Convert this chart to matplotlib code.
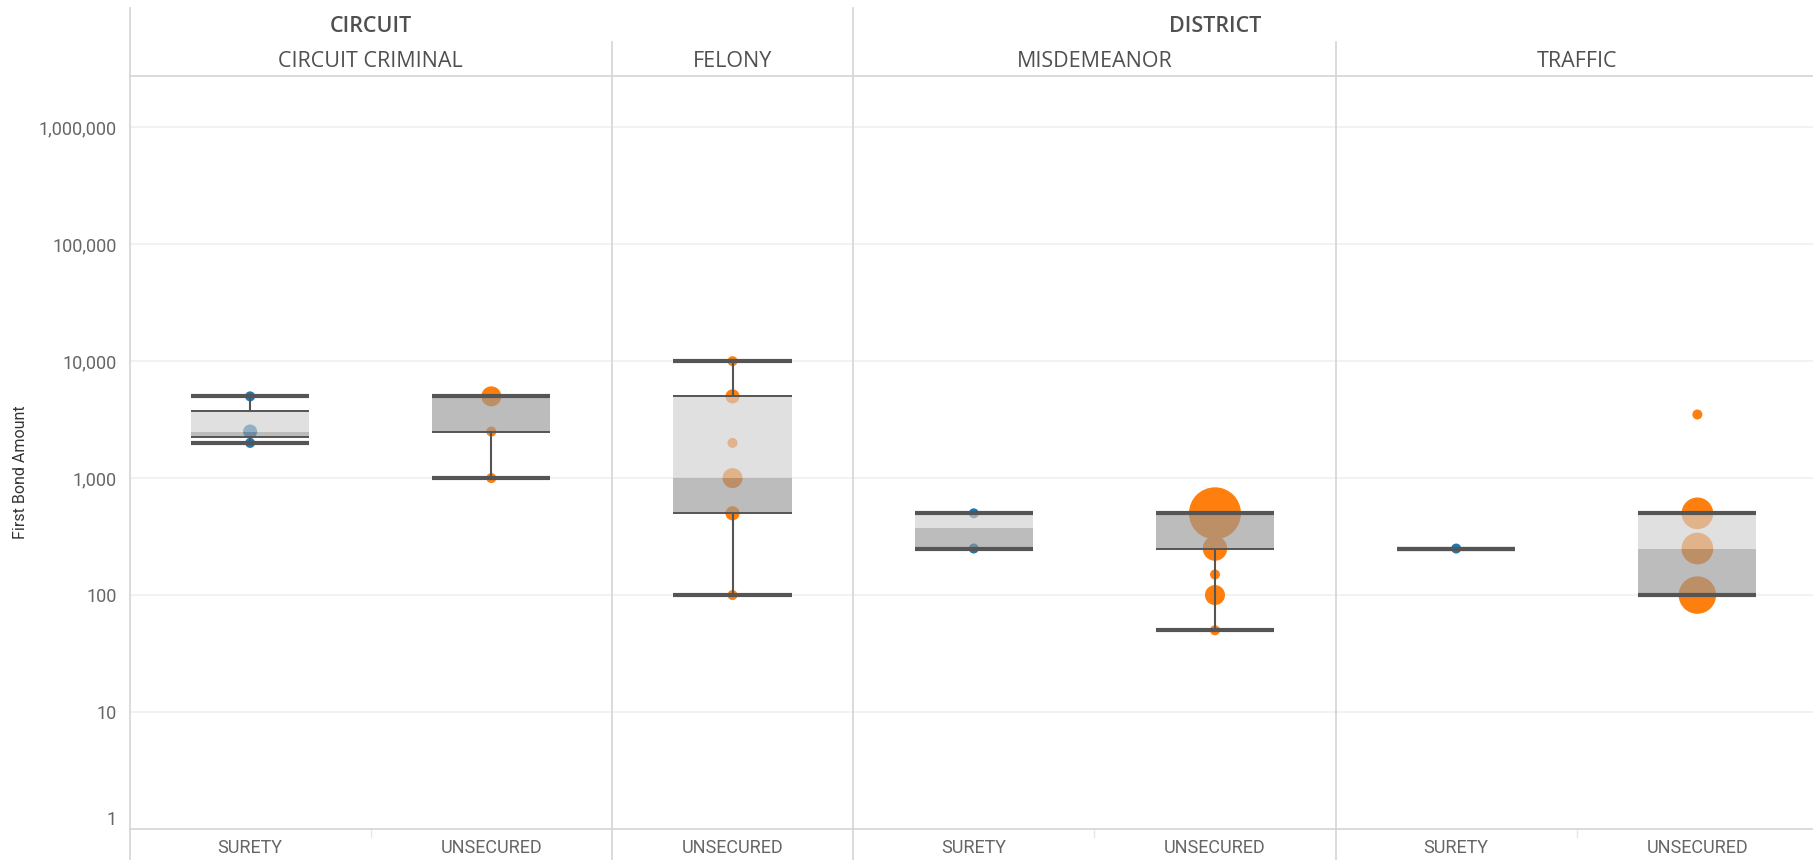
import matplotlib
matplotlib.use('Agg')
import matplotlib.pyplot as plt
import numpy as np

# --- data ---
court = ['CIRCUIT', 'CIRCUIT', 'DISTRICT', 'DISTRICT', 'DISTRICT', 'DISTRICT', 'DISTRICT']
case_type = ['CIRCUIT CRIMINAL', 'CIRCUIT CRIMINAL', 'FELONY', 'MISDEMEANOR',
             'MISDEMEANOR', 'TRAFFIC', 'TRAFFIC']
bond_type = ['SURETY', 'UNSECURED', 'UNSECURED', 'SURETY', 'UNSECURED', 'SURETY', 'UNSECURED']

whisker_lo = [2000, 1000, 100, 250, 50, 250, 100]
q1 = [2250, 2500, 500, 250, 250, 250, 100]
median = [2500, 5000, 1000, 375, 500, 250, 250]
q3 = [3750, 5000, 5000, 500, 500, 250, 500]
whisker_hi = [5000, 5000, 10000, 500, 500, 250, 500]

pt_slot = [0, 0, 0, 1, 1, 1, 2, 2, 2, 2, 2, 2, 3, 3, 4, 4, 4, 4, 4, 5, 6, 6, 6, 6]
pt_value = [5000, 2500, 2000, 5000, 2500, 1000, 10000, 5000, 2000, 1000, 500, 100,
            500, 250, 500, 250, 150, 100, 50, 250, 3500, 500, 250, 100]
pt_count = [1, 2, 1, 4, 1, 1, 1, 2, 1, 4, 2, 1,
            1, 1, 27, 6, 1, 4, 1, 1, 1, 10, 10, 14]

bond_colours = {'SURETY': '#1f77b4', 'UNSECURED': '#ff7f0e'}

# --- figure ---
fig = plt.figure(figsize=(18.13, 8.6), dpi=100)
# the last panel runs a few px past the right edge, like the reference
ax = fig.add_axes([129.5 / 1813, 1 - 829 / 860, (1818 - 129.5) / 1813, (829 - 76) / 860])

axisFont = ['Liberation Sans Narrow', 'Roboto', 'DejaVu Sans']
headFont = ['Open Sans', 'DejaVu Sans']
textCol = '#505050'
lineCol = '#555555'
sepCol = '#d4d4d4'

ax.set_yscale('log')
ax.set_ylim(1, 10 ** 6.438)
ax.set_xlim(-0.5, len(bond_type) - 0.5)

# points (under the boxes)
colours = [bond_colours[bond_type[s]] for s in pt_slot]
ax.scatter(pt_slot, pt_value, s=np.array(pt_count) * 52, c=colours,
           linewidths=0, zorder=2)

# boxes
w = 0.49
xs = np.arange(len(bond_type))
med = np.array(median)
ax.bar(xs, np.array(q3) - med, bottom=med, width=w, color='#d0d0d0', alpha=0.65, zorder=3)
ax.bar(xs, med - np.array(q1), bottom=q1, width=w, color='#989898', alpha=0.65, zorder=3)
ax.hlines(q1 + q3, np.tile(xs - w / 2, 2), np.tile(xs + w / 2, 2),
          colors=lineCol, lw=1.4, zorder=4)
ax.vlines(xs, whisker_lo, q1, colors=lineCol, lw=1.5, zorder=4)
ax.vlines(xs, q3, whisker_hi, colors=lineCol, lw=1.5, zorder=4)
ax.hlines(whisker_lo + whisker_hi, np.tile(xs - w / 2, 2), np.tile(xs + w / 2, 2),
          colors=lineCol, lw=3, zorder=5)

# grid
yt = [1, 10, 100, 1000, 10000, 100000, 1000000]
ax.set_yticks(yt)
ax.set_yticklabels([f'{v:,}' for v in yt], family=axisFont, fontsize=13, color='#666666')
ax.minorticks_off()
for v in yt[1:]:
    ax.axhline(v, color='#f0f0f0', lw=1.2, zorder=0)
ax.tick_params(axis='y', length=0, pad=9)
ax.get_yticklabels()[0].set_va('bottom')

ax.set_xticks(xs)
ax.set_xticklabels(bond_type, family=axisFont, fontsize=13, color='#666666')
ax.tick_params(axis='x', length=0, pad=7)

for s in ['left', 'right']:
    ax.spines[s].set_visible(False)
for s in ['top', 'bottom']:
    ax.spines[s].set_color(sepCol)
    ax.spines[s].set_linewidth(1.2)

# panel separators
ax.axvline(-0.5, ymin=-0.05, ymax=1.09, color=sepCol, lw=1.2, clip_on=False)
ax.axvline(2.5, ymin=-0.05, ymax=1.09, color=sepCol, lw=1.2, clip_on=False)
for xv in [1.5, 4.5]:
    ax.axvline(xv, ymin=-0.05, ymax=1.0457, color=sepCol, lw=1.2, clip_on=False)
for xv in [0.5, 3.5, 5.5]:
    ax.axvline(xv, ymin=-0.0106, ymax=0, color='#e8e8e8', lw=1, clip_on=False)

# headers
tr = ax.get_xaxis_transform()
ax.text(0.5, 1.066, 'CIRCUIT', transform=tr, ha='center', va='center',
        family=headFont, fontsize=15.5, color=textCol, weight='semibold')
ax.text(4.0, 1.066, 'DISTRICT', transform=tr, ha='center', va='center',
        family=headFont, fontsize=15.5, color=textCol, weight='semibold')
for xv, lab in [(0.5, 'CIRCUIT CRIMINAL'), (2.0, 'FELONY'), (3.5, 'MISDEMEANOR'), (5.5, 'TRAFFIC')]:
    ax.text(xv, 1.019, lab, transform=tr, ha='center', va='center',
            family=headFont, fontsize=15.5, color=textCol)

fig.text(21 / 1813, 1 - 472 / 860, 'First Bond Amount', rotation=90, ha='center', va='center',
         family=axisFont, fontsize=11.5, color='#333333')

fig.savefig('out.png', dpi=100)
